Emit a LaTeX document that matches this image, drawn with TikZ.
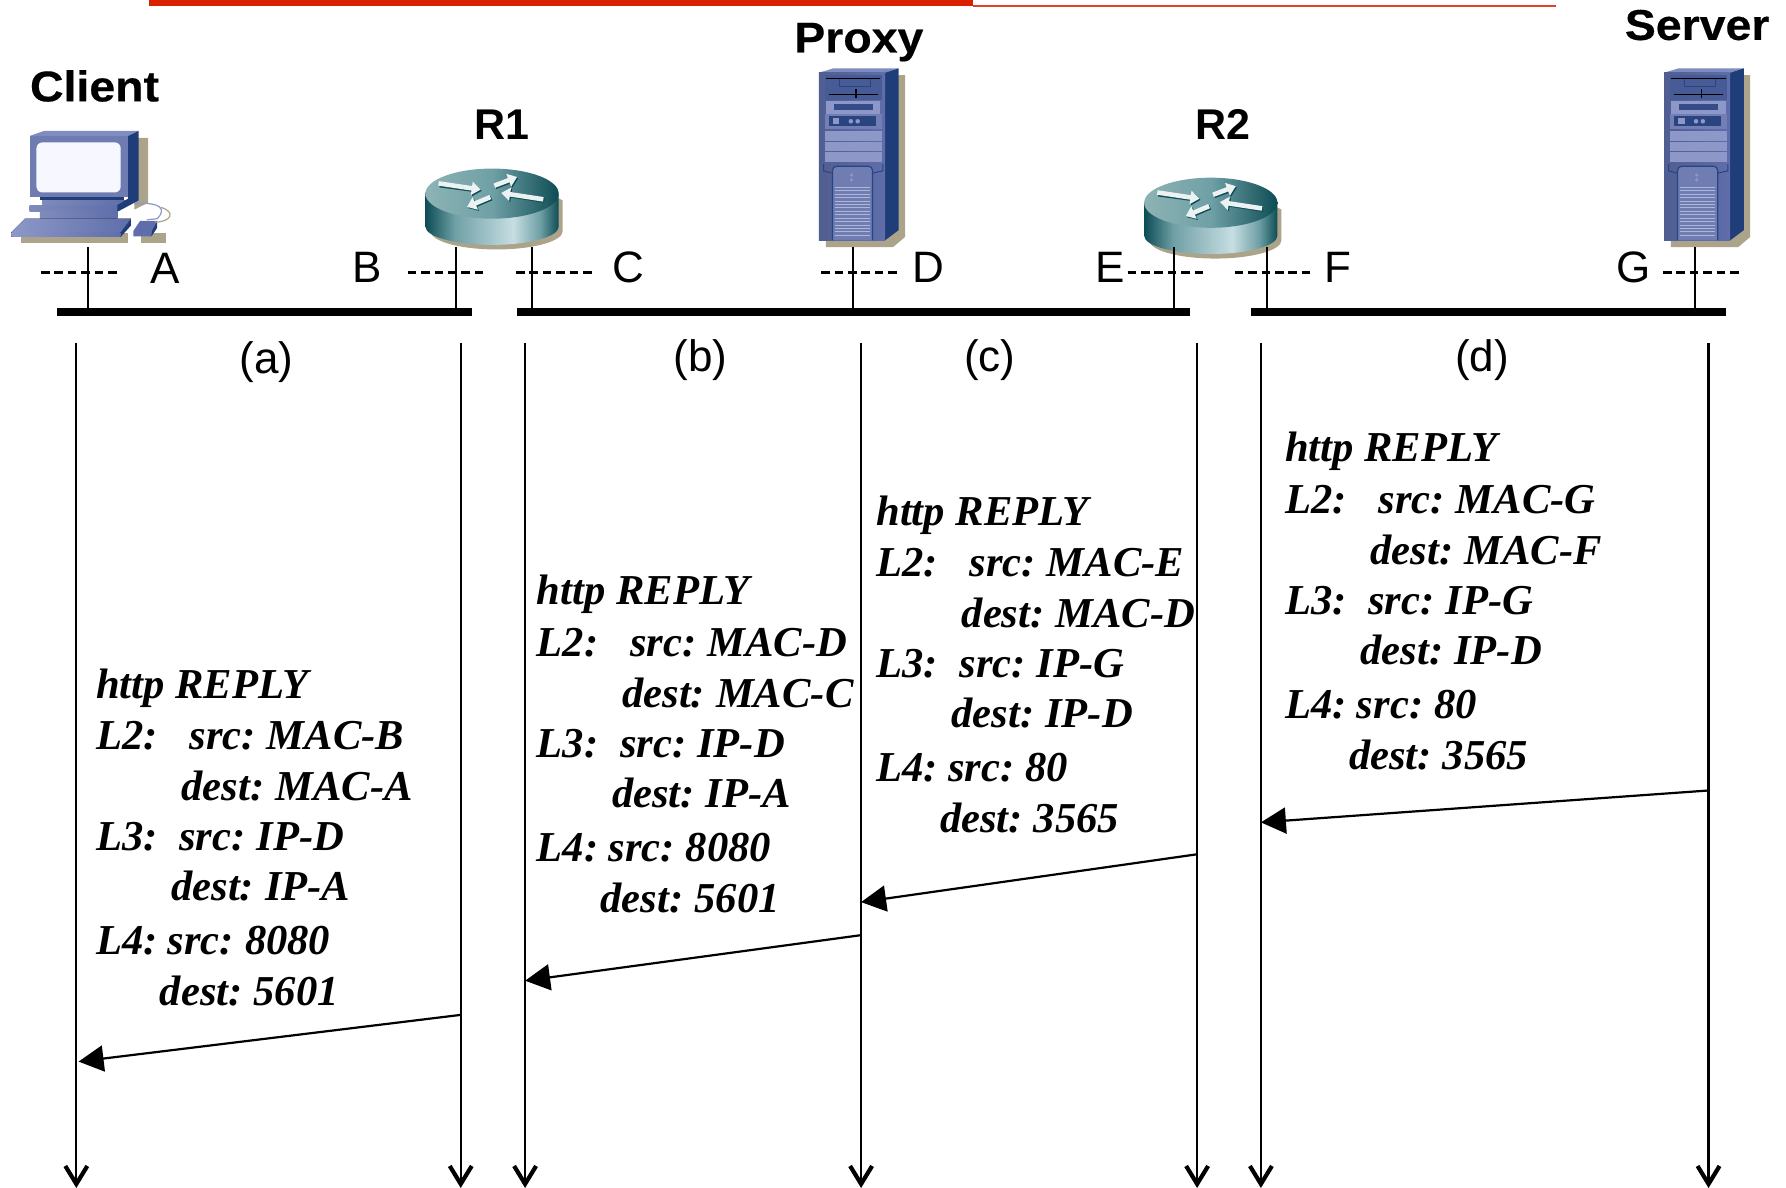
\documentclass[tikz,border=0pt]{standalone}
\usepackage{fontspec}
\setmainfont{Liberation Sans}
\newfontfamily\tmsfont[WordSpace=0.7]{Liberation Serif}
\newfontfamily\widebold[FakeStretch=1.08,FakeBold=0.4]{Liberation Sans Bold}
\usetikzlibrary{arrows.meta,calc}
\definecolor{tanshadow}{HTML}{ABA38A}
\definecolor{hwfront}{HTML}{5F6EAA}
\definecolor{hwtop}{HTML}{7E8CC0}
\definecolor{hwside}{HTML}{1F3D78}
\definecolor{hwlight}{HTML}{8D98C8}
\definecolor{hwdark}{HTML}{2A4480}
\definecolor{redbar}{HTML}{D92000}
\definecolor{rtA}{HTML}{0D4C54}
\definecolor{rtB}{HTML}{6FA0A6}
\definecolor{rtC}{HTML}{C6DEE2}
\definecolor{rtD}{HTML}{8DB3B5}
\pgfdeclarehorizontalshading{rtsideb}{100bp}{color(0bp)=(rtA);color(25bp)=(rtA);color(36bp)=(rtB);color(58bp)=(rtC);color(68bp)=(rtB);color(75bp)=(rtA);color(100bp)=(rtA)}
\pgfdeclarehorizontalshading{rttopb}{100bp}{color(0bp)=(rtD);color(25bp)=(rtD);color(50bp)=(rtB);color(75bp)=(rtA);color(100bp)=(rtA)}
\tikzset{
  x=0.5695pt,y=-0.5695pt,
  devlabel/.style={font=\widebold\fontsize{21.5}{24}\selectfont,inner sep=0pt},
  rtlabel/.style={font=\bfseries\fontsize{21.5}{24}\selectfont,inner sep=0pt},
  portlabel/.style={font=\fontsize{22}{25}\selectfont,inner sep=0pt},
  msgtext/.style={font=\tmsfont\bfseries\itshape\fontsize{21.3}{24}\selectfont,inner sep=0pt,anchor=base west},
  busline/.style={line width=4pt},
  stub/.style={line width=1.1pt},
  portdash/.style={line width=1.2pt,dash pattern=on 4.3pt off 2.4pt},
  lifeline/.style={line width=1.1pt,-{Straight Barb[length=9pt,width=11pt,line width=2.1pt]}},
  msgarrow/.style={line width=1.1pt,-{Triangle[length=12.5pt,width=13pt]}},
  rtarrow/.style={line width=2.3pt,-{Triangle[length=4.5pt,width=6.5pt]}},
}
\newcommand{\msgblock}[9]{%
  \node[msgtext] (#1h) at ({#2},{#3+13}) {http\hspace{.25em}REPLY};
  \node[msgtext] (#1a) at ({#2},{#3+58}) {L2:};
  \node[msgtext] (#1b) at ({#2+82},{#3+58}) {#4};
  \node[msgtext] (#1c) at ({#2+75},{#3+103}) {#5};
  \node[msgtext] (#1d) at ({#2},{#3+147}) {L3:};
  \node[msgtext] (#1e) at ({#2+73},{#3+147}) {#6};
  \node[msgtext] (#1f) at ({#2+66},{#3+191}) {#7};
  \node[msgtext] (#1g) at ({#2},{#3+238}) {L4:};
  \node[msgtext] (#1i) at ({#2+63},{#3+238}) {#8};
  \node[msgtext] (#1j) at ({#2+56},{#3+283}) {#9};
}
\newcommand{\servericon}[2]{%
  \begin{scope}[shift={(#1,#2)}]
    \fill[tanshadow] (70,6)--(75.6,6)--(75.6,148)--(65,157)--(6,157)--(6,151)--cycle;
    \fill[hwtop] (0,3.8)--(12.8,0)--(70,0)--(58,3.8)--cycle;
    \fill[hwside] (58,3.8)--(70,0)--(70,142)--(58,151)--cycle;
    \fill[left color=hwfront!85!black,right color=hwfront] (0,3.8) rectangle (58,151);
    \fill[hwdark!45!hwfront] (5,6) rectangle (55,28);
    \draw[hwdark,line width=.4pt] (18,9) rectangle (45,15.5);
    \fill[black] (6,8.2) rectangle (54,9.6);
    \fill[black] (8.7,22.3) rectangle (52,23.8);
    \fill[black] (32,18) rectangle (33,26);
    \fill[hwlight] (6,29) rectangle (54,40);
    \fill[hwdark!80!hwfront] (13,31) rectangle (47,37);
    \fill[hwlight!40!hwfront] (5.4,40) rectangle (55,53);
    \fill[hwdark] (8.7,42) rectangle (50,51);
    \fill[hwlight] (12,44) rectangle (18,49);
    \fill[hwlight] (28,46.5) circle (2); \fill[hwlight] (34,46.5) circle (2);
    \fill[hwlight] (5.4,55) rectangle (55,63.5);
    \fill[hwlight] (5.4,64.5) rectangle (55,72.6);
    \fill[hwlight] (5.4,73.5) rectangle (55,81.9);
    \draw[hwdark,line width=.5pt] (4,84)--(4,90)--(11,92);
    \draw[hwdark,line width=.5pt] (56,84)--(56,90)--(47,92);
    \draw[hwdark,line width=.6pt,rounded corners=2pt,fill=hwfront!90!white] (11.8,151)--(11.8,86)--(47,86)--(47,151);
    \fill[hwlight] (28.6,93.7) circle (1.6); \fill[hwlight] (28.6,98) circle (1.6);
    \foreach \v in {104.5,107.5,...,147} \draw[hwlight!70!white,line width=.45pt] (13.8,\v)--(44.7,\v);
  \end{scope}
}
\newcommand{\routericon}[2]{%
  \begin{scope}[shift={(#1,#2)}]
    \fill[tanshadow] (-54,33) arc[start angle=180,end angle=0,x radius=58,y radius=16] -- (62,6) -- (50,0) -- cycle;
    \path[shading=rtsideb] (-58.5,0) -- (-58.5,29) arc[start angle=180,end angle=0,x radius=58.5,y radius=16] -- (58.5,0) -- cycle;
    \path[shading=rttopb] (0,0) ellipse [x radius=58.5,y radius=22];
    \draw[rtA,rtarrow] (-46,-7.5)--(-9,-2.5);
    \draw[rtA,rtarrow] (3,-6)--(23,-13.5);
    \draw[rtA,rtarrow] (46,6)--(9,.4);
    \draw[rtA,rtarrow] (-.5,4)--(-21,12.7);
    \draw[white!92!rtA,rtarrow] (-47,-9)--(-10,-3.5);
    \draw[white!92!rtA,rtarrow] (2,-7)--(22,-14.6);
    \draw[white!92!rtA,rtarrow] (45,5)--(8,-.6);
    \draw[white!92!rtA,rtarrow] (-1.5,3)--(-22,11.7);
  \end{scope}
}
\begin{document}
\begin{tikzpicture}
\useasboundingbox (0,0) rectangle (1568,1043);
% top bar
\fill[redbar] (131,0) rectangle (854,5.5);
\fill[redbar!85!white] (854,4) rectangle (1366,5.8);
% client
\fill[tanshadow] (118,121) -- (130,121) -- (130,178) -- (118,184) -- cycle;
\fill[tanshadow] (18.5,205) rectangle (112,213.6);
\fill[tanshadow] (124,205) rectangle (146,213.6);
\fill[hwtop] (26,119.4)--(38.6,115)--(121.6,115)--(112.5,119.4)--cycle;
\fill[hwside] (112.5,119.4)--(121.6,115)--(121.6,169)--(112.5,175.6)--cycle;
\fill[hwfront!90!white] (26,119.4) rectangle (112.5,173);
\fill[hwside] (35,173) rectangle (109,176);
\fill[rounded corners=3pt,fill=blue!3!white] (32,125) rectangle (106,169);
\fill[left color=hwfront!80!white,right color=hwfront] (37,176) rectangle (110,180);
\fill[left color=hwfront!80!white,right color=hwfront] (26,180) rectangle (103,186);
\fill[hwside] (103,186)--(103,180)--(121.6,169)--(121.6,176)--cycle;
\fill[left color=hwfront!80!white,right color=hwfront] (35,186) rectangle (103,192);
\fill[left color=hwlight,right color=hwfront] (10,204)--(22,192)--(115,192)--(106,204)--cycle;
\fill[hwside] (106,204)--(115,192)--(115,198)--(106,208)--cycle;
\fill[left color=hwlight,right color=hwfront] (10,204) rectangle (106,208);
\fill[hwfront] (117,203)--(123,194)--(138,194)--(133,203)--(133,207.5)--(117,207.5)--cycle;
\fill[hwside] (133,203)--(138,194)--(138,200)--(133,207.5)--cycle;
\draw[hwlight,line width=.6pt] (118,179) .. controls (140,177) and (147,183) .. (138,192) -- (129,193);
\draw[tanshadow,line width=.6pt] (136,195) .. controls (150,195) and (155,186) .. (141,182);
% proxy, routers, server
\servericon{719}{60}
\servericon{1461}{60}
\routericon{432}{170}
\routericon{1063}{178}
% device labels
\node[devlabel] (client) at (83,75.5) {Client};
\node[rtlabel] (r1) at (440.5,109.5) {R1};
\node[devlabel] (proxy) at (754,37) {Proxy};
\node[rtlabel] (r2) at (1073.5,109.5) {R2};
\node[devlabel] (server) at (1490,22) {Server};
% port labels
\node[portlabel] (pA) at (145,236) {A};
\node[portlabel] (pB) at (322,235) {B};
\node[portlabel] (pC) at (552,235) {C};
\node[portlabel] (pD) at (815,235) {D};
\node[portlabel] (pE) at (975,235) {E};
\node[portlabel] (pF) at (1175,235) {F};
\node[portlabel] (pG) at (1434,235) {G};
\node[portlabel] (ca) at (234,318) {(a)};
\node[portlabel] (cb) at (615,316) {(b)};
\node[portlabel] (cc) at (869,316) {(c)};
\node[portlabel] (cd) at (1301,316) {(d)};
% buses
\coordinate (b1l) at (50,273.5); \coordinate (b1r) at (414,273.5);
\coordinate (b2l) at (454,273.5); \coordinate (b2r) at (1045,273.5);
\coordinate (b3l) at (1098,273.5); \coordinate (b3r) at (1515,273.5);
\draw[busline] (b1l)--(b1r);
\draw[busline] (b2l)--(b2r);
\draw[busline] (b3l)--(b3r);
% stubs and dashes
\foreach \x/\nm in {77/a,400/b,467/c,749/d,1031/e,1112/f,1488/g}{
  \coordinate (st\nm) at (\x,217);
  \coordinate (sb\nm) at (\x,272);
  \draw[stub] (st\nm)--(sb\nm);
}
\foreach \xa/\xb in {36/103,358/425,453/520,721/788,990/1057,1084/1151,1460/1527}{
  \draw[portdash] (\xa,239.3)--(\xb,239.3);
}
% lifelines
\foreach \x/\nm in {67/a,404.5/b,461/c,756/d,1051/e,1107/f,1500/g}{
  \coordinate (lt\nm) at (\x,301);
  \coordinate (lb\nm) at (\x,1043);
  \draw[lifeline] (lt\nm)--(lb\nm);
}
% message arrows
\coordinate (m1s) at (404.5,891); \coordinate (m1e) at (69,932);
\coordinate (m2s) at (756,821); \coordinate (m2e) at (461,861);
\coordinate (m3s) at (1051,750); \coordinate (m3e) at (756,792);
\coordinate (m4s) at (1500,694); \coordinate (m4e) at (1107,722);
\draw[msgarrow] (m1s)--(m1e);
\draw[msgarrow] (m2s)--(m2e);
\draw[msgarrow] (m3s)--(m3e);
\draw[msgarrow] (m4s)--(m4e);
% message texts
\msgblock{ta}{84}{600}{src: MAC-B}{dest: MAC-A}{src: IP-D}{dest: IP-A}{src: 8080}{dest: 5601}
\msgblock{tb}{471}{518}{src: MAC-D}{dest: MAC-C}{src: IP-D}{dest: IP-A}{src: 8080}{dest: 5601}
\msgblock{tc}{769}{448}{src: MAC-E}{dest: MAC-D}{src: IP-G}{dest: IP-D}{src: 80}{dest: 3565}
\msgblock{td}{1128}{392.5}{src: MAC-G}{dest: MAC-F}{src: IP-G}{dest: IP-D}{src: 80}{dest: 3565}
\end{tikzpicture}
\end{document}
